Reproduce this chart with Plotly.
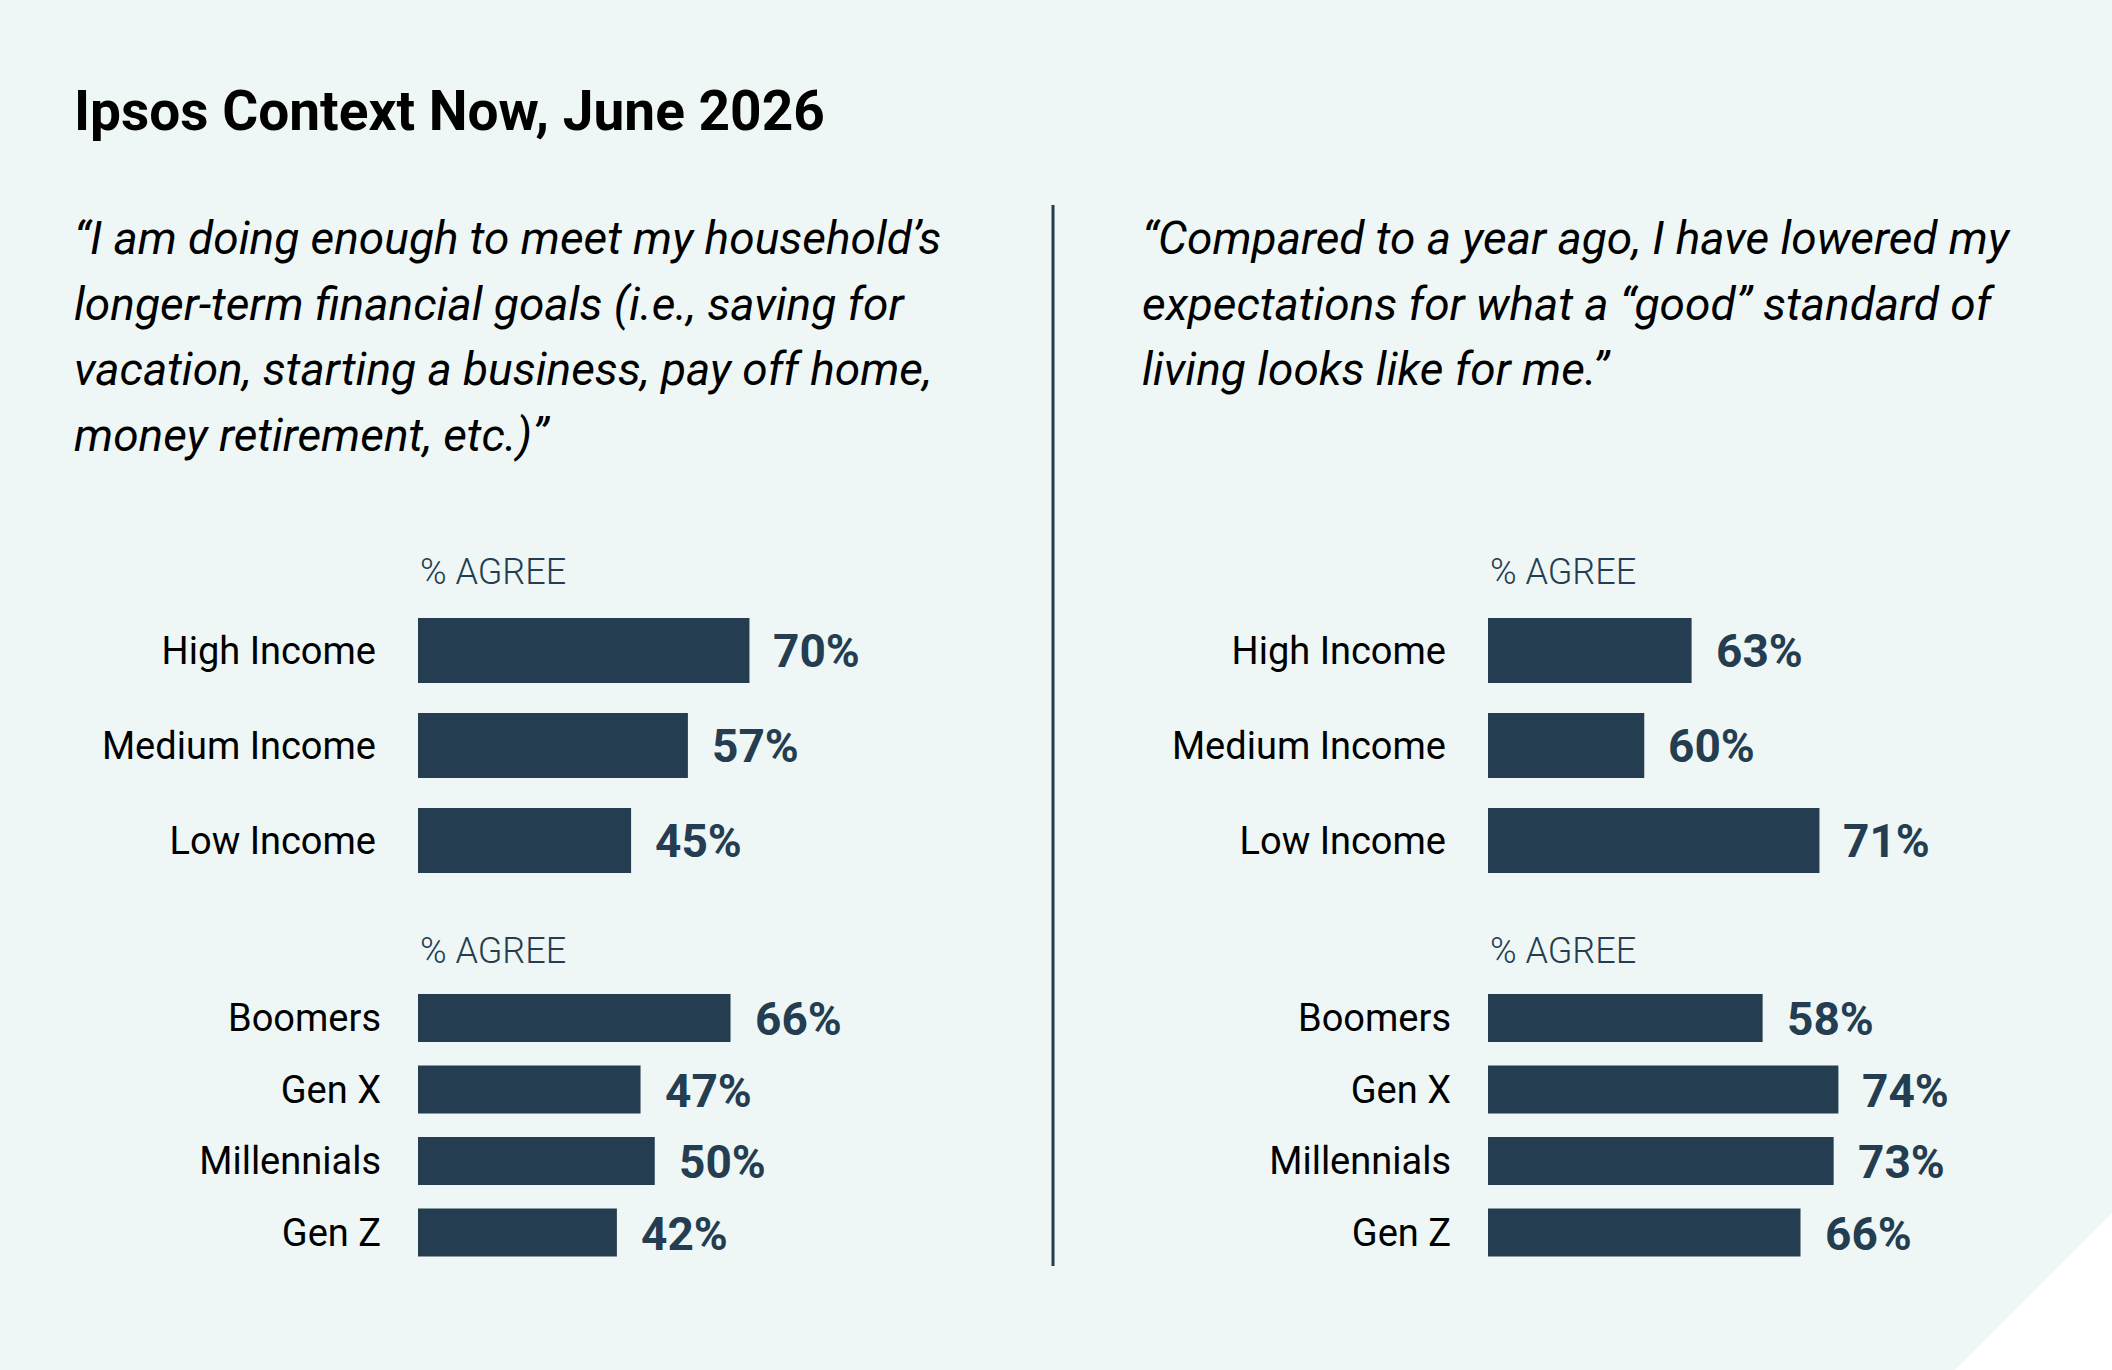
import plotly.graph_objects as go

W, H = 2112, 1370

BG = "#EEF7F5"
SLATE = "#243D50"
FONT = "Roboto"

title = "Ipsos Context Now, June 2026"

left_quote = [
    "“I am doing enough to meet my household’s",
    "longer-term financial goals (i.e., saving for",
    "vacation, starting a business, pay off home,",
    "money retirement, etc.)”",
]
right_quote = [
    "“Compared to a year ago, I have lowered my",
    "expectations for what a “good” standard of",
    "living looks like for me.”",
]

income_groups = ["High Income", "Medium Income", "Low Income"]
gen_groups = ["Boomers", "Gen X", "Millennials", "Gen Z"]

left_income = [70, 57, 45]
left_gen = [66, 47, 50, 42]
right_income_labels = [63, 60, 71]
right_income_bars = [43, 33, 70]   # bar lengths as drawn in the source graphic
right_gen = [58, 74, 73, 66]

header = "% AGREE"


def px_x(v):
    return v / W


def px_y(v):
    return 1 - v / H


# (categories, bar lengths, printed labels, left edge px, first bar centre px, pitch px, bar height px, label standoff)
panels = [
    (income_groups, left_income, left_income, 418, 650.5, 95, 65, 41),
    (gen_groups, left_gen, left_gen, 418, 1018, 71.5, 48, 36),
    (income_groups, right_income_bars, right_income_labels, 1488, 650.5, 95, 65, 41),
    (gen_groups, right_gen, right_gen, 1488, 1018, 71.5, 48, 36),
]

PX_PER_PCT = 4.735

fig = go.Figure()
annotations = []
layout_axes = {}

for i, (cats, bars, labels, x0, c0, pitch, bh, standoff) in enumerate(panels, start=1):
    n = len(cats)
    xa = "x" if i == 1 else f"x{i}"
    ya = "y" if i == 1 else f"y{i}"
    fig.add_trace(go.Bar(
        x=bars, y=cats, orientation="h",
        marker=dict(color=SLATE, line=dict(width=0)),
        width=bh / pitch,
        xaxis=xa, yaxis=ya,
        hoverinfo="skip", showlegend=False,
    ))
    top = c0 - pitch / 2
    bottom = c0 + pitch * (n - 0.5)
    layout_axes["xaxis" if i == 1 else f"xaxis{i}"] = dict(
        domain=[px_x(x0), px_x(x0 + 100 * PX_PER_PCT)],
        range=[0, 100], visible=False, fixedrange=True,
        anchor=ya,
    )
    layout_axes["yaxis" if i == 1 else f"yaxis{i}"] = dict(
        domain=[px_y(bottom), px_y(top)],
        type="category", categoryorder="array", categoryarray=cats,
        range=[n - 0.5, -0.5],
        showgrid=False, zeroline=False, showline=False, ticks="",
        ticklabelstandoff=standoff,
        tickfont=dict(family=FONT, size=38, color="#000000"),
        anchor=xa, fixedrange=True,
    )
    for cat, b, lab in zip(cats, bars, labels):
        annotations.append(dict(
            xref=xa, yref=ya, x=b, y=cat,
            text=f"{lab}%", showarrow=False,
            xanchor="left", yanchor="middle", xshift=22, yshift=-1,
            font=dict(family=FONT, size=46, color=SLATE, weight=700),
        ))
    # "% AGREE" header above each block
    annotations.append(dict(
        xref="paper", yref="paper",
        x=px_x(x0), y=px_y(top - 31),
        text=header, showarrow=False, xanchor="left", yanchor="middle",
        font=dict(family=FONT, size=36, color=SLATE, weight=300),
    ))

# title
annotations.append(dict(
    xref="paper", yref="paper", x=px_x(72), y=px_y(111),
    text=f"<b>{title}</b>", showarrow=False, xanchor="left", yanchor="middle",
    font=dict(family=FONT, size=55, color="#000000"),
))

# quotes, one annotation per line
for lines, x0 in ((left_quote, 72), (right_quote, 1140)):
    for k, line in enumerate(lines):
        annotations.append(dict(
            xref="paper", yref="paper", x=px_x(x0), y=px_y(238 + 65.7 * k),
            text=line, showarrow=False, xanchor="left", yanchor="middle",
            font=dict(family=FONT, size=46, color="#000000", style="italic"),
        ))

shapes = [
    # white corner cut at the bottom right
    dict(type="path", xref="paper", yref="paper",
         path=f"M 1 {px_y(1213)} L 1 0 L {px_x(1955)} 0 Z",
         fillcolor="#FFFFFF", line=dict(width=0), layer="below"),
    # divider between the two statements
    dict(type="line", xref="paper", yref="paper",
         x0=px_x(1053), x1=px_x(1053), y0=px_y(205), y1=px_y(1266),
         line=dict(color=SLATE, width=3)),
]

fig.update_layout(
    width=W, height=H,
    margin=dict(l=0, r=0, t=0, b=0),
    paper_bgcolor=BG, plot_bgcolor="rgba(0,0,0,0)",
    showlegend=False,
    annotations=annotations,
    shapes=shapes,
    **layout_axes,
)

fig.write_html(
    "out.html",
    config={"displayModeBar": False},
    post_script="document.body.style.margin = '0';",
)
